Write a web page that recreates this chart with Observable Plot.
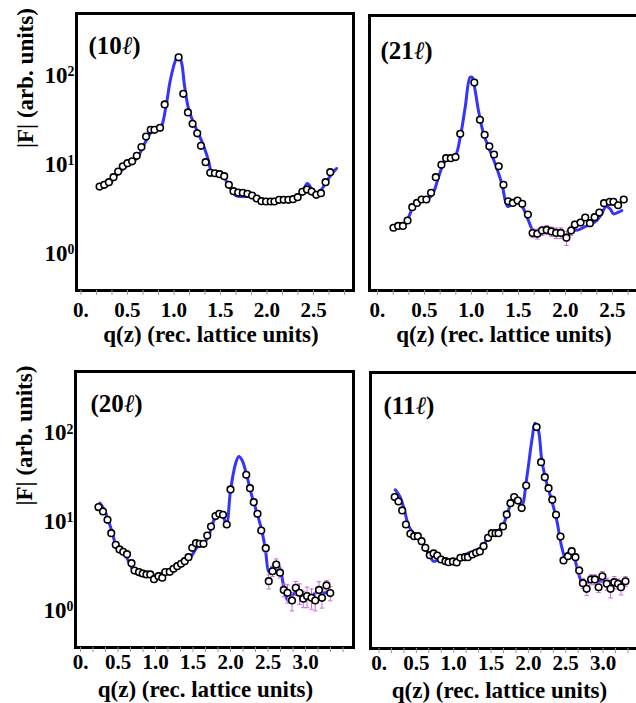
<!DOCTYPE html>
<html>
<head>
<meta charset="utf-8">
<script src="https://cdn.jsdelivr.net/npm/d3@7"></script>
<script src="https://cdn.jsdelivr.net/npm/@observablehq/plot@0.6"></script>
<style>
  html, body { margin: 0; padding: 0; background: #fff; }
  #wrap { position: relative; width: 636px; height: 703px; overflow: hidden; background: #fff; }
  .pn { position: absolute; }
  #wrap svg { max-width: none !important; font-family: "Liberation Serif", "Times New Roman", Times, serif !important; }
  #wrap svg text, #wrap svg tspan { font-family: "Liberation Serif", "Times New Roman", Times, serif !important; }
</style>
</head>
<body>
<div id="wrap"></div>
<script>
// ---------- data ----------
// (10ℓ)
const q10 = [0.20,0.25,0.30,0.35,0.40,0.45,0.50,0.55,0.60,0.65,0.70,0.75,0.79,0.85,0.90,1.05,1.10,1.15,1.20,1.25,1.29,1.34,1.39,1.44,1.49,1.54,1.59,1.64,1.69,1.74,1.79,1.84,1.89,1.94,1.99,2.04,2.08,2.13,2.18,2.23,2.28,2.33,2.38,2.43,2.48,2.53,2.58,2.63,2.68];
const f10 = [5.37,5.61,6.01,6.84,7.92,9.08,9.82,10.3,11.9,14.9,19.6,23.3,23.3,24.5,44.9,152,59.1,36.5,27.2,21.3,15.4,10.1,7.66,7.58,7.39,7.02,5.61,4.76,4.60,4.57,4.45,4.26,3.94,3.68,3.65,3.65,3.65,3.81,3.81,3.81,3.87,4.08,4.69,4.97,4.72,4.34,4.52,6.01,7.78];
const e10 = [0.2,0.2,0.2,0.25,0.3,0.3,0.35,0.35,0.4,0.5,0.7,0.8,0.8,0.9,1.5,5,2,1.2,0.9,0.7,0.5,0.35,0.3,0.3,0.3,0.25,0.2,0.2,0.2,0.2,0.2,0.2,0.2,0.2,0.2,0.2,0.2,0.2,0.2,0.2,0.2,0.2,0.2,0.25,0.25,0.25,0.25,0.3,0.35];
const fitQ10 = [0.20,0.30,0.39,0.50,0.60,0.69,0.77,0.855,0.91,0.96,1.016,1.048,1.081,1.113,1.156,1.21,1.263,1.317,1.371,1.414,1.478,1.543,1.608,1.661,1.715,1.823,1.93,2.038,2.145,2.253,2.34,2.392,2.435,2.478,2.521,2.575,2.63,2.683,2.747];
const fitF10 = [5.06,5.66,7.33,9.25,11.1,16.8,22.9,24.7,40.4,83.5,140,159,133,73.3,40.4,28.1,21.2,15.5,10.5,7.33,7.14,6.61,5.1,4.26,4.15,4.15,3.84,3.55,3.65,3.84,4.15,4.97,5.81,5.1,4.48,4.85,5.81,7.14,8.57];

// (21ℓ)
const q21 = [0.17,0.22,0.27,0.32,0.37,0.42,0.47,0.52,0.57,0.62,0.68,0.73,0.78,0.83,0.88,1.03,1.09,1.14,1.19,1.24,1.29,1.34,1.39,1.44,1.49,1.54,1.60,1.65,1.70,1.75,1.80,1.85,1.90,1.95,2.01,2.06,2.10,2.16,2.21,2.26,2.31,2.36,2.41,2.47,2.51,2.56,2.62];
const f21 = [1.85,1.94,1.94,2.23,3.15,3.52,3.84,3.84,4.57,6.84,9.42,11.2,11.2,11.5,21.0,79.2,30.2,20.5,15.2,12.3,9.08,5.61,3.67,3.52,3.74,3.44,2.60,1.61,1.58,1.72,1.75,1.68,1.62,1.62,1.43,1.72,2.01,2.12,2.41,2.08,2.43,2.74,3.49,3.62,3.62,3.31,3.84];
const e21 = [0.08,0.08,0.08,0.1,0.12,0.12,0.14,0.14,0.15,0.2,0.3,0.35,0.35,0.35,0.6,2.5,1,0.6,0.45,0.4,0.3,0.2,0.15,0.15,0.15,0.15,0.15,0.18,0.2,0.2,0.2,0.2,0.22,0.22,0.26,0.2,0.18,0.18,0.18,0.18,0.18,0.18,0.2,0.2,0.2,0.2,0.2];
const fitQ21 = [0.167,0.269,0.33,0.383,0.436,0.543,0.596,0.649,0.702,0.755,0.826,0.88,0.933,0.986,1.011,1.039,1.074,1.128,1.181,1.252,1.323,1.386,1.44,1.5,1.553,1.606,1.66,1.784,1.926,2.014,2.067,2.138,2.209,2.28,2.333,2.386,2.429,2.475,2.511,2.564,2.599];
const fitF21 = [1.81,1.94,2.43,3.23,3.58,3.91,4.64,6.84,9.67,11.5,12.0,19.2,41.8,90.9,89.4,64.4,38.4,21.0,14.9,9.67,5.77,3.20,3.44,3.58,3.02,2.23,1.72,1.72,1.58,1.51,1.72,1.75,1.91,2.05,2.23,2.65,3.20,3.02,2.65,2.77,2.89];

// (20ℓ)
const q20 = [0.24,0.30,0.36,0.41,0.47,0.52,0.57,0.62,0.68,0.72,0.78,0.83,0.88,0.93,0.98,1.04,1.09,1.13,1.19,1.24,1.29,1.34,1.39,1.44,1.49,1.54,1.59,1.64,1.69,1.74,1.80,1.85,1.90,1.95,2.00,2.21,2.26,2.31,2.36,2.41,2.47,2.51,2.56,2.61,2.66,2.71,2.76,2.82,2.87,2.92,2.97,3.02,3.08,3.13,3.18,3.22,3.28,3.33];
const f20 = [13.9,12.4,10.0,7.06,5.22,4.63,4.36,4.09,3.24,2.68,2.57,2.48,2.42,2.42,2.14,2.31,2.22,2.57,2.59,2.80,3.00,3.19,3.41,3.79,4.83,5.45,5.36,5.36,6.65,8.40,11.0,11.7,11.4,8.85,22.0,32.2,22.7,15.8,11.7,7.57,4.79,2.03,2.63,3.13,2.53,1.62,1.50,1.23,1.71,1.50,1.29,1.38,1.32,1.23,1.62,1.32,1.82,1.49];
const e20 = [0.5,0.45,0.35,0.25,0.18,0.16,0.15,0.14,0.12,0.1,0.1,0.1,0.1,0.1,0.09,0.1,0.1,0.1,0.1,0.11,0.12,0.12,0.13,0.14,0.18,0.2,0.2,0.2,0.25,0.3,0.4,0.4,0.4,0.35,0.8,1.2,0.9,0.6,0.5,0.35,0.5,0.37,0.34,0.49,0.33,0.27,0.35,0.29,0.31,0.39,0.27,0.36,0.34,0.29,0.38,0.31,0.24,0.27];
const fitQ20 = [0.258,0.311,0.364,0.422,0.467,0.533,0.6,0.667,0.733,0.8,0.933,1.067,1.2,1.333,1.467,1.556,1.644,1.711,1.778,1.844,1.903,1.947,2.0,2.067,2.111,2.156,2.222,2.289,2.356,2.422,2.467,2.511,2.556,2.613,2.667,2.711,2.764,2.823,2.889,2.956,3.022,3.089,3.156,3.222,3.333];
const fitF20 = [15.4,13.3,10.3,7.25,5.36,4.51,3.96,3.05,2.50,2.36,2.30,2.46,2.63,3.19,3.79,4.91,5.45,6.65,9.82,11.7,10.7,9.02,21.4,42.8,51.7,46.6,30.2,18.0,11.7,7.25,4.51,2.57,2.92,3.33,2.68,1.74,1.23,1.40,1.57,1.40,1.37,1.40,1.53,1.49,1.53];

// (11ℓ)
const q11 = [0.21,0.26,0.31,0.36,0.42,0.47,0.52,0.57,0.62,0.68,0.73,0.78,0.83,0.89,0.93,0.99,1.04,1.09,1.15,1.19,1.25,1.30,1.35,1.40,1.46,1.51,1.56,1.60,1.66,1.71,1.76,1.81,1.86,1.91,1.97,2.11,2.17,2.22,2.27,2.32,2.37,2.43,2.47,2.53,2.58,2.63,2.68,2.73,2.78,2.84,2.89,2.94,2.99,3.05,3.10,3.15,3.20,3.24,3.30];
const f11 = [18.5,16.5,13.1,9.08,7.13,6.70,6.70,5.89,4.96,4.10,4.28,4.06,3.66,3.50,3.41,3.48,3.39,3.83,3.89,3.89,4.17,4.36,4.51,5.17,6.43,7.25,7.25,7.25,8.63,11.8,15.8,18.5,16.9,13.9,25.0,114,45.8,31.0,23.3,17.3,11.7,6.65,3.57,3.99,4.54,3.89,2.75,1.98,1.71,2.18,2.18,1.78,2.37,1.95,1.71,2.03,1.95,1.78,2.08];
const e11 = [0.5,0.45,0.35,0.25,0.2,0.18,0.18,0.16,0.14,0.12,0.12,0.12,0.1,0.1,0.1,0.1,0.1,0.11,0.11,0.11,0.12,0.12,0.13,0.15,0.18,0.2,0.2,0.2,0.25,0.35,0.45,0.5,0.45,0.4,0.7,3,1.3,0.9,0.6,0.5,0.35,0.52,0.28,0.31,0.35,0.3,0.29,0.26,0.27,0.28,0.28,0.23,0.31,0.3,0.36,0.32,0.25,0.32,0.27];
const fitQ11 = [0.217,0.284,0.341,0.395,0.462,0.529,0.596,0.663,0.73,0.797,0.886,1.02,1.154,1.288,1.376,1.466,1.556,1.645,1.711,1.77,1.814,1.868,1.912,1.979,2.046,2.091,2.135,2.18,2.247,2.313,2.38,2.447,2.493,2.56,2.604,2.648,2.715,2.76,2.849,2.983,3.116,3.206,3.296];
const fitF11 = [22.4,18.5,13.1,8.85,7.25,6.53,5.50,4.25,3.50,3.63,3.57,3.57,4.17,4.63,5.04,6.53,7.44,8.47,11.5,16.2,18.5,16.2,14.9,31.0,80.4,126,104,47.8,26.1,16.9,10.1,5.04,3.89,4.63,4.25,3.0,2.03,1.95,2.12,2.08,2.08,2.08,1.95];

// ticks and labels
const xTicksTop = [0, 0.5, 1, 1.5, 2, 2.5];
const xTickLabelsTop = ["0.", "0.5", "1.0", "1.5", "2.0", "2.5"];
const xTicksBottom = [0, 0.5, 1, 1.5, 2, 2.5, 3];
const xTickLabelsBottom = ["0.", "0.5", "1.0", "1.5", "2.0", "2.5", "3.0"];
const yTicks = [1, 10, 100];
const panelNames = ["(10ℓ)", "(21ℓ)", "(20ℓ)", "(11ℓ)"];
const xTitle = "q(z) (rec. lattice units)";
const yTitle = "|F| (arb. units)";

// ---------- drawing ----------
const FONT = "'Liberation Serif', 'Times New Roman', Times, serif";
const ERR = "#cc66dd";
const BLUE = "#3434ff";
const capSymbol = { draw(ctx, size) { const r = Math.sqrt(size / Math.PI); ctx.moveTo(-r, 0); ctx.lineTo(r, 0); } };
const minorAll = d3.range(0, 3.6, 1 / 6);

const panels = [
  { name: panelNames[0], q: q10, f: f10, e: e10, fq: fitQ10, ff: fitF10, left: 0, top: 0, width: 360, height: 350,
    m: { top: 13, right: 7, bottom: 60, left: 76 }, xd: [-0.048, 2.930], yd: [0.365, 472],
    ticks: xTicksTop, labels: xTickLabelsTop, pad: 12, ldx: 12, ldy: 32, tdx: -4, tdy: 44, yaxis: true },
  { name: panelNames[1], q: q21, f: f21, e: e21, fq: fitQ21, ff: fitF21, left: 360, top: 0, width: 290, height: 350,
    m: { top: 15, right: 10, bottom: 60, left: 9 }, xd: [-0.085, 2.798], yd: [0.365, 448],
    ticks: xTicksTop, labels: xTickLabelsTop, pad: 12, ldx: 11, ldy: 35, tdx: -1, tdy: 44, yaxis: false },
  { name: panelNames[2], q: q20, f: f20, e: e20, fq: fitQ20, ff: fitF20, left: 0, top: 350, width: 360, height: 353,
    m: { top: 21, right: 7, bottom: 56, left: 75 }, xd: [-0.0667, 3.64], yd: [0.363, 470],
    ticks: xTicksBottom, labels: xTickLabelsBottom, pad: 7, ldx: 15, ldy: 32, tdx: -9, tdy: 42, yaxis: true },
  { name: panelNames[3], q: q11, f: f11, e: e11, fq: fitQ11, ff: fitF11, left: 360, top: 350, width: 290, height: 353,
    m: { top: 22, right: 10, bottom: 55, left: 10 }, xd: [-0.114, 3.501], yd: [0.363, 470],
    ticks: xTicksBottom, labels: xTickLabelsBottom, pad: 7, ldx: 13, ldy: 33, tdx: -6, tdy: 42, yaxis: false }
];

const wrap = document.getElementById("wrap");
const NS = "http://www.w3.org/2000/svg";

for (const p of panels) {
  const pts = p.q.map((q, i) => ({ q, f: p.f[i], e: p.e[i] }));
  const fit = p.fq.map((q, i) => ({ q, f: p.ff[i] }));
  const labelMap = new Map(p.ticks.map((t, i) => [t, p.labels[i]]));
  const minor = minorAll.filter(t => t >= p.xd[0] && t <= p.xd[1]);
  const marks = [
    Plot.line(fit, { x: "q", y: "f", stroke: BLUE, strokeWidth: 3, curve: "catmull-rom" }),
    Plot.ruleX(pts, { x: "q", y1: d => d.f - d.e, y2: d => d.f + d.e, stroke: ERR, strokeWidth: 1 }),
    Plot.dot(pts, { x: "q", y: d => d.f - d.e, symbol: capSymbol, r: 2.2, fill: "none", stroke: ERR, strokeWidth: 1 }),
    Plot.dot(pts, { x: "q", y: d => d.f + d.e, symbol: capSymbol, r: 2.2, fill: "none", stroke: ERR, strokeWidth: 1 }),
    Plot.dot(pts, { x: "q", y: "f", r: 3.3, fill: "white", stroke: "black", strokeWidth: 1.6 }),
    Plot.frame({ stroke: "black", strokeWidth: 3 }),
    Plot.axisX(minor, { tickSize: 5, tickFormat: () => "", stroke: "#999", label: null }),
    Plot.axisX(p.ticks, { tickSize: 0, tickPadding: p.pad, tickFormat: d => labelMap.get(d), fontSize: 21, fontWeight: "bold", label: null }),
    Plot.text([p.name], { frameAnchor: "top-left", lineAnchor: "middle", dx: p.ldx, dy: p.ldy, textAnchor: "start", fontSize: 25, fontWeight: "bold" }),
    Plot.text([xTitle], { frameAnchor: "bottom", lineAnchor: "middle", dx: p.tdx, dy: p.tdy, fontSize: 23, fontWeight: "bold" })
  ];
  if (p.yaxis) {
    marks.push(
      Plot.axisY(yTicks, { tickSize: 0, tickPadding: 2, dy: 2, tickFormat: d => "10^" + Math.round(Math.log10(d)), fontSize: 23, fontWeight: "bold", label: null }),
      Plot.text([yTitle], { frameAnchor: "left", lineAnchor: "middle", rotate: -90, dx: -51, dy: -4, fontSize: 23, fontWeight: "bold" })
    );
  }
  const svg = Plot.plot({
    width: p.width,
    height: p.height,
    marginTop: p.m.top, marginRight: p.m.right, marginBottom: p.m.bottom, marginLeft: p.m.left,
    style: { fontFamily: FONT, fontWeight: "bold", background: "transparent", overflow: "visible", color: "black", maxWidth: "none" },
    x: { domain: p.xd, axis: null },
    y: { type: "log", domain: p.yd, axis: null },
    marks
  });
  svg.querySelectorAll("text").forEach(t => {
    const s = t.textContent;
    if (s === "") { t.remove(); return; }
    const m = s.match(/^10\^(-?\d+)$/);
    if (m) {
      t.textContent = "10";
      const ts = document.createElementNS(NS, "tspan");
      ts.setAttribute("dy", "-0.5em");
      ts.setAttribute("font-size", "0.6em");
      ts.textContent = m[1];
      t.appendChild(ts);
    } else if (s.includes("ℓ")) {
      const k = s.indexOf("ℓ");
      t.textContent = s.slice(0, k);
      const ts = document.createElementNS(NS, "tspan");
      ts.setAttribute("font-style", "italic");
      ts.setAttribute("font-weight", "normal");
      ts.textContent = "ℓ";
      t.appendChild(ts);
      t.appendChild(document.createTextNode(s.slice(k + 1)));
    }
  });
  const div = document.createElement("div");
  div.className = "pn";
  div.style.left = p.left + "px";
  div.style.top = p.top + "px";
  div.style.width = p.width + "px";
  div.style.height = p.height + "px";
  div.appendChild(svg);
  wrap.appendChild(div);
}
</script>
</body>
</html>
